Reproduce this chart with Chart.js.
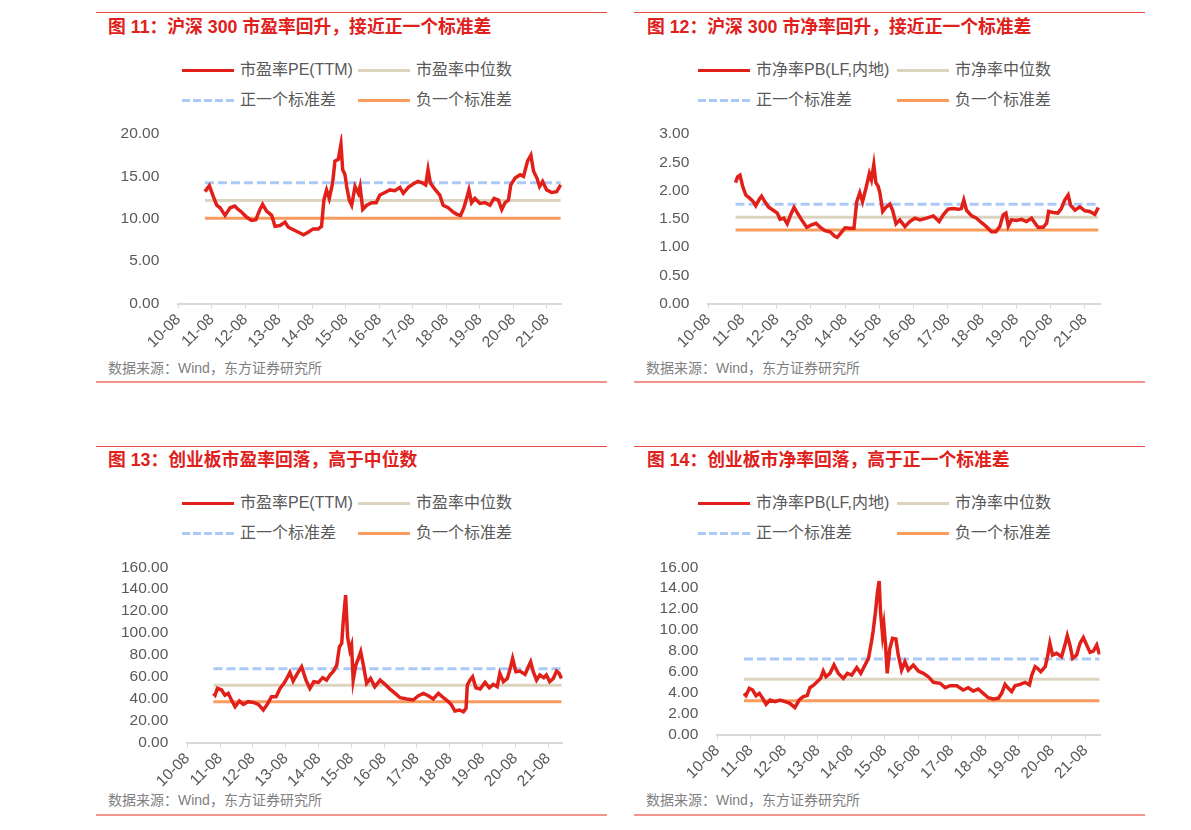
<!DOCTYPE html>
<html>
<head>
<meta charset="utf-8">
<script src="https://cdn.jsdelivr.net/npm/chart.js@4.4.0/dist/chart.umd.min.js"></script>
<style>
  body { margin: 0; background: #fff; width: 1191px; height: 830px; position: relative; overflow: hidden;
         font-family: "Liberation Sans", "Noto Sans CJK SC", sans-serif; }
  .rule { position: absolute; height: 1px; background: #e8483f; }
  .rule.bot { height: 2px; background: #f4958d; }
  .title { position: absolute; font-size: 17.8px; font-weight: bold; color: #e0201b; line-height: 20px; white-space: nowrap; }
  .src { position: absolute; font-size: 14px; color: #7f7f7f; line-height: 18px; white-space: nowrap; }
  .lg { position: absolute; font-size: 16px; color: #595959; line-height: 20px; white-space: nowrap; display: flex; align-items: center; }
  .sw { width: 52px; height: 3px; margin-right: 6px; }
  canvas { position: absolute; }
</style>
</head>
<body>
<script>
// x axis tick labels (yy-mm), one per year
const xTickLabels = ['10-08', '11-08', '12-08', '13-08', '14-08', '15-08', '16-08', '17-08', '18-08', '19-08', '20-08', '21-08'];

// 沪深300 市盈率PE(TTM)
const hs300PeDates = [2011.38, 2011.51, 2011.63, 2011.73, 2011.83, 2011.98, 2012.13, 2012.27, 2012.37, 2012.47, 2012.62, 2012.77, 2012.90, 2013.02, 2013.10, 2013.22, 2013.37, 2013.47, 2013.62, 2013.77, 2013.87, 2014.02, 2014.17, 2014.32, 2014.46, 2014.61, 2014.76, 2014.86, 2014.93, 2015.01, 2015.09, 2015.19, 2015.26, 2015.36, 2015.44, 2015.49, 2015.56, 2015.61, 2015.69, 2015.76, 2015.86, 2015.96, 2016.01, 2016.09, 2016.21, 2016.36, 2016.49, 2016.60, 2016.75, 2016.90, 2017.05, 2017.20, 2017.30, 2017.45, 2017.59, 2017.74, 2017.89, 2017.97, 2018.04, 2018.11, 2018.26, 2018.39, 2018.49, 2018.64, 2018.79, 2018.91, 2019.01, 2019.11, 2019.19, 2019.26, 2019.34, 2019.44, 2019.59, 2019.74, 2019.89, 2020.01, 2020.14, 2020.24, 2020.34, 2020.44, 2020.51, 2020.64, 2020.79, 2020.89, 2021.01, 2021.11, 2021.19, 2021.29, 2021.37, 2021.46, 2021.58, 2021.73, 2021.88, 2022.00];
const hs300PeValues = [13.2, 13.9, 12.6, 11.6, 11.3, 10.4, 11.3, 11.5, 11.1, 10.8, 10.2, 9.8, 9.9, 11.1, 11.7, 10.9, 10.4, 9.1, 9.2, 9.6, 9.0, 8.7, 8.4, 8.1, 8.4, 8.8, 8.8, 9.1, 12.2, 13.4, 12.4, 14.2, 16.8, 17.0, 18.8, 15.8, 15.2, 13.8, 12.2, 11.6, 13.8, 13.0, 13.8, 11.1, 11.6, 11.9, 11.9, 12.8, 13.1, 13.4, 13.3, 13.7, 13.0, 13.7, 14.1, 14.4, 14.2, 14.0, 15.8, 14.2, 13.4, 12.8, 11.6, 11.3, 10.8, 10.5, 10.4, 11.3, 12.4, 13.4, 11.9, 12.4, 11.8, 11.9, 11.6, 12.4, 12.2, 11.1, 11.9, 12.2, 14.0, 14.8, 15.2, 15.0, 16.8, 17.5, 15.6, 14.8, 13.8, 14.4, 13.4, 13.1, 13.2, 14.0];
const hs300PeRefs = [14.25, 12.15, 10.05];          // 正一个标准差, 中位数, 负一个标准差
const hs300PeTicks = [0, 5, 10, 15, 20];

// 沪深300 市净率PB(LF,内地)
const hs300PbDates = [2011.38, 2011.44, 2011.51, 2011.59, 2011.68, 2011.80, 2011.90, 2011.97, 2012.07, 2012.14, 2012.24, 2012.34, 2012.48, 2012.60, 2012.68, 2012.79, 2012.89, 2012.99, 2013.09, 2013.18, 2013.31, 2013.46, 2013.60, 2013.73, 2013.85, 2013.99, 2014.14, 2014.28, 2014.35, 2014.45, 2014.58, 2014.72, 2014.84, 2014.92, 2015.01, 2015.09, 2015.19, 2015.29, 2015.35, 2015.42, 2015.48, 2015.55, 2015.60, 2015.68, 2015.77, 2015.89, 2015.97, 2016.07, 2016.18, 2016.33, 2016.47, 2016.62, 2016.77, 2016.96, 2017.16, 2017.33, 2017.45, 2017.59, 2017.74, 2017.89, 2017.98, 2018.05, 2018.13, 2018.28, 2018.42, 2018.57, 2018.71, 2018.86, 2018.99, 2019.10, 2019.20, 2019.28, 2019.35, 2019.44, 2019.59, 2019.74, 2019.88, 2020.03, 2020.12, 2020.22, 2020.37, 2020.47, 2020.53, 2020.66, 2020.80, 2020.90, 2021.00, 2021.10, 2021.17, 2021.30, 2021.44, 2021.59, 2021.73, 2021.88, 2021.98];
const hs300PbValues = [2.14, 2.24, 2.27, 2.07, 1.92, 1.86, 1.80, 1.73, 1.84, 1.90, 1.80, 1.71, 1.65, 1.60, 1.49, 1.51, 1.41, 1.57, 1.70, 1.61, 1.48, 1.35, 1.39, 1.42, 1.35, 1.29, 1.27, 1.19, 1.17, 1.24, 1.34, 1.33, 1.33, 1.80, 1.96, 1.80, 2.04, 2.30, 2.19, 2.46, 2.14, 2.07, 1.95, 1.63, 1.70, 1.76, 1.65, 1.41, 1.48, 1.36, 1.45, 1.51, 1.48, 1.51, 1.55, 1.45, 1.57, 1.67, 1.68, 1.67, 1.68, 1.83, 1.65, 1.55, 1.51, 1.43, 1.36, 1.27, 1.27, 1.36, 1.57, 1.60, 1.37, 1.48, 1.47, 1.49, 1.45, 1.51, 1.43, 1.35, 1.35, 1.42, 1.63, 1.61, 1.60, 1.68, 1.83, 1.92, 1.74, 1.65, 1.71, 1.64, 1.63, 1.58, 1.70];
const hs300PbRefs = [1.755, 1.525, 1.30];
const hs300PbTicks = [0, 0.5, 1, 1.5, 2, 2.5, 3];

// 创业板 市盈率PE(TTM)
const cybPeDates = [2011.38, 2011.43, 2011.50, 2011.63, 2011.73, 2011.83, 2011.93, 2012.04, 2012.17, 2012.29, 2012.44, 2012.60, 2012.75, 2012.90, 2013.02, 2013.15, 2013.29, 2013.41, 2013.53, 2013.63, 2013.71, 2013.81, 2013.94, 2014.07, 2014.20, 2014.32, 2014.44, 2014.58, 2014.71, 2014.83, 2014.93, 2015.04, 2015.14, 2015.22, 2015.29, 2015.34, 2015.41, 2015.47, 2015.54, 2015.59, 2015.64, 2015.72, 2015.80, 2015.87, 2015.95, 2016.05, 2016.17, 2016.30, 2016.46, 2016.61, 2016.76, 2016.92, 2017.07, 2017.27, 2017.47, 2017.63, 2017.78, 2017.93, 2018.08, 2018.24, 2018.39, 2018.54, 2018.64, 2018.74, 2018.88, 2019.00, 2019.08, 2019.12, 2019.20, 2019.28, 2019.38, 2019.51, 2019.66, 2019.79, 2019.91, 2020.03, 2020.11, 2020.22, 2020.34, 2020.44, 2020.50, 2020.60, 2020.72, 2020.88, 2020.98, 2021.05, 2021.13, 2021.23, 2021.33, 2021.45, 2021.53, 2021.63, 2021.74, 2021.84, 2021.92, 2021.99];
const cybPeValues = [44.9, 43.3, 49.4, 47.9, 43.3, 44.9, 38.8, 32.7, 37.9, 34.8, 37.3, 36.6, 34.8, 29.7, 34.8, 41.8, 41.8, 49.4, 54.0, 59.2, 64.0, 56.1, 63.1, 69.2, 57.0, 49.4, 55.5, 54.9, 59.2, 57.0, 61.6, 65.2, 70.7, 87.4, 90.5, 111.8, 134.6, 96.6, 84.4, 89.0, 57.0, 70.7, 76.8, 82.9, 70.7, 54.0, 58.5, 50.9, 57.0, 53.1, 48.8, 44.9, 40.9, 39.7, 38.8, 42.7, 44.9, 42.7, 39.7, 44.9, 40.9, 37.3, 34.2, 28.7, 29.7, 28.1, 31.2, 52.5, 57.0, 60.1, 50.0, 48.8, 54.9, 50.0, 53.1, 50.9, 63.1, 55.5, 58.5, 69.2, 76.8, 64.6, 65.2, 62.2, 69.2, 73.7, 64.6, 57.0, 61.6, 59.2, 61.6, 55.5, 58.5, 65.2, 63.1, 58.5];
const cybPeRefs = [67.4, 52.2, 37.3];
const cybPeTicks = [0, 20, 40, 60, 80, 100, 120, 140, 160];

// 创业板 市净率PB(LF,内地)
const cybPbDates = [2011.38, 2011.44, 2011.54, 2011.64, 2011.74, 2011.84, 2011.94, 2012.04, 2012.16, 2012.31, 2012.46, 2012.61, 2012.75, 2012.90, 2013.03, 2013.15, 2013.27, 2013.35, 2013.47, 2013.57, 2013.67, 2013.75, 2013.83, 2013.95, 2014.07, 2014.20, 2014.35, 2014.47, 2014.60, 2014.75, 2014.87, 2014.97, 2015.10, 2015.19, 2015.24, 2015.31, 2015.37, 2015.42, 2015.46, 2015.52, 2015.56, 2015.61, 2015.66, 2015.74, 2015.82, 2015.92, 2015.99, 2016.09, 2016.19, 2016.29, 2016.44, 2016.59, 2016.74, 2016.89, 2017.04, 2017.24, 2017.39, 2017.54, 2017.74, 2017.93, 2018.08, 2018.23, 2018.38, 2018.53, 2018.68, 2018.83, 2018.98, 2019.08, 2019.18, 2019.28, 2019.38, 2019.48, 2019.63, 2019.78, 2019.91, 2019.98, 2020.08, 2020.15, 2020.25, 2020.38, 2020.45, 2020.52, 2020.60, 2020.72, 2020.87, 2020.97, 2021.04, 2021.12, 2021.20, 2021.32, 2021.42, 2021.52, 2021.62, 2021.72, 2021.82, 2021.92, 2022.00];
const cybPbValues = [3.94, 3.72, 4.42, 4.26, 3.72, 3.94, 3.46, 2.89, 3.30, 3.14, 3.30, 3.14, 2.98, 2.57, 3.30, 3.62, 3.72, 4.48, 4.74, 5.06, 5.37, 6.08, 5.53, 5.85, 6.65, 5.85, 5.37, 5.85, 5.69, 6.40, 5.85, 6.49, 7.29, 8.88, 9.90, 11.75, 13.67, 14.69, 11.75, 9.52, 10.48, 8.56, 5.85, 8.25, 9.20, 9.14, 7.61, 6.17, 6.97, 6.17, 6.65, 6.08, 5.85, 5.53, 4.99, 4.90, 4.48, 4.67, 4.67, 4.26, 4.48, 4.16, 4.35, 3.94, 3.52, 3.40, 3.46, 3.94, 4.80, 4.42, 4.10, 4.67, 4.80, 4.99, 4.74, 5.69, 6.49, 6.33, 6.01, 6.49, 7.45, 8.72, 7.61, 7.77, 7.45, 8.56, 9.46, 8.56, 7.29, 7.61, 8.72, 9.27, 8.56, 7.86, 7.99, 8.56, 7.67];
const cybPbRefs = [7.22, 5.28, 3.24];
const cybPbTicks = [0, 2, 4, 6, 8, 10, 12, 14, 16];

const peLegend = ['市盈率PE(TTM)', '市盈率中位数', '正一个标准差', '负一个标准差'];
const pbLegend = ['市净率PB(LF,内地)', '市净率中位数', '正一个标准差', '负一个标准差'];
const SOURCE = '数据来源：Wind，东方证券研究所';

const RED = '#e2201a', BEIGE = '#ddd4bf', BLUE = '#a9c9f6', ORANGE = '#f89b5c';
const TICK_COLOR = '#595959';
const X_MIN = 2010 + 7 / 12, X_MAX = 2022.03;
const tickPos = l => 2000 + parseInt(l.slice(0, 2), 10) + (parseInt(l.slice(3), 10) - 1) / 12;

const panels = [
  { title: '图 11：沪深 300 市盈率回升，接近正一个标准差', legend: peLegend, dates: hs300PeDates, values: hs300PeValues, refs: hs300PeRefs, ticks: hs300PeTicks,
    x0: 96, top: 12, bottom: 381, titleX: 108, titleY: 27, lgX: [182, 358], lgY: [70, 100], srcX: 108, srcY: 368,
    plot: { l: 178.3, r: 561.7, t: 134, b: 303.5 } },
  { title: '图 12：沪深 300 市净率回升，接近正一个标准差', legend: pbLegend, dates: hs300PbDates, values: hs300PbValues, refs: hs300PbRefs, ticks: hs300PbTicks,
    x0: 634, top: 12, bottom: 381, titleX: 647, titleY: 27, lgX: [698, 897], lgY: [70, 100], srcX: 646, srcY: 368,
    plot: { l: 708.3, r: 1100, t: 134, b: 303.5 } },
  { title: '图 13：创业板市盈率回落，高于中位数', legend: peLegend, dates: cybPeDates, values: cybPeValues, refs: cybPeRefs, ticks: cybPeTicks,
    x0: 96, top: 446, bottom: 814, titleX: 108, titleY: 460, lgX: [182, 358], lgY: [503, 533], srcX: 108, srcY: 800,
    plot: { l: 187.3, r: 562.8, t: 567.3, b: 742.5 } },
  { title: '图 14：创业板市净率回落，高于正一个标准差', legend: pbLegend, dates: cybPbDates, values: cybPbValues, refs: cybPbRefs, ticks: cybPbTicks,
    x0: 634, top: 446, bottom: 814, titleX: 647, titleY: 460, lgX: [698, 897], lgY: [503, 533], srcX: 646, srcY: 800,
    plot: { l: 717.3, r: 1100.4, t: 567.3, b: 734.5 } }
];

function el(tag, cls, css, text) {
  const e = document.createElement(tag);
  if (cls) e.className = cls;
  Object.assign(e.style, css);
  if (text) e.textContent = text;
  document.body.appendChild(e);
  return e;
}

function legendItem(x, cy, label, swatchBg) {
  const d = el('div', 'lg', { left: x + 'px', top: (cy - 10) + 'px' });
  const s = document.createElement('span');
  s.className = 'sw';
  s.style.background = swatchBg;
  d.appendChild(s);
  d.appendChild(document.createTextNode(label));
}

panels.forEach(p => {
  el('div', 'rule', { left: p.x0 + 'px', top: p.top + 'px', width: '511px' });
  el('div', 'rule bot', { left: p.x0 + 'px', top: p.bottom + 'px', width: '511px' });
  el('div', 'title', { left: p.titleX + 'px', top: (p.titleY - 10) + 'px' }, p.title);
  el('div', 'src', { left: p.srcX + 'px', top: (p.srcY - 9) + 'px' }, SOURCE);

  legendItem(p.lgX[0], p.lgY[0], p.legend[0], RED);
  legendItem(p.lgX[1], p.lgY[0], p.legend[1], BEIGE);
  legendItem(p.lgX[0], p.lgY[1], p.legend[2], 'repeating-linear-gradient(to right, ' + BLUE + ' 0 8px, transparent 8px 11px)');
  legendItem(p.lgX[1], p.lgY[1], p.legend[3], ORANGE);

  // canvas placed so that the chart area lands on the plot rectangle
  // (top margin must exceed the y-label half height + tick padding, ~28px)
  const a = p.plot;
  const left = Math.floor(a.l) - 80, top = Math.floor(a.t) - 34;
  const width = Math.ceil(a.r) + 8 - left, height = Math.ceil(a.b) + 62 - top;
  const cv = el('canvas', null, { left: left + 'px', top: top + 'px', width: width + 'px', height: height + 'px' });
  cv.width = width; cv.height = height;
  const yW = a.l - left, padTop = a.t - top, padRight = left + width - a.r, xH = top + height - a.b;

  const start = p.dates[0], end = p.dates[p.dates.length - 1];
  const flat = v => [{ x: start, y: v }, { x: end, y: v }];
  const tickFont = { family: '"Liberation Sans", sans-serif', size: 15.5 };

  new Chart(cv, {
    type: 'line',
    data: {
      datasets: [
        { data: p.dates.map((d, i) => ({ x: d, y: p.values[i] })), borderColor: RED, borderWidth: 3.5, pointRadius: 0, tension: 0 },
        { data: flat(p.refs[0]), borderColor: BLUE, borderWidth: 3, borderDash: [9, 4], pointRadius: 0 },
        { data: flat(p.refs[1]), borderColor: BEIGE, borderWidth: 3, pointRadius: 0 },
        { data: flat(p.refs[2]), borderColor: ORANGE, borderWidth: 3, pointRadius: 0 }
      ]
    },
    options: {
      responsive: false,
      animation: false,
      events: [],
      layout: { padding: { top: padTop, right: padRight, left: 0, bottom: 0 } },
      plugins: { legend: { display: false }, tooltip: { enabled: false } },
      scales: {
        x: {
          type: 'linear', min: X_MIN, max: X_MAX,
          afterBuildTicks: s => { s.ticks = xTickLabels.map(l => ({ value: tickPos(l) })); },
          afterFit: s => { s.height = xH; },
          ticks: { callback: (v, i) => xTickLabels[i], autoSkip: false, maxRotation: 45, minRotation: 45, padding: 2, color: TICK_COLOR, font: tickFont },
          grid: { drawOnChartArea: false, drawTicks: true, tickLength: 5, color: '#d9d9d9' },
          border: { display: true, color: '#d9d9d9', width: 2 }
        },
        y: {
          min: 0, max: p.ticks[p.ticks.length - 1],
          afterBuildTicks: s => { s.ticks = p.ticks.map(v => ({ value: v })); },
          afterFit: s => { s.width = yW; },
          ticks: { callback: v => v.toFixed(2), autoSkip: false, padding: 19, color: TICK_COLOR, font: tickFont },
          grid: { display: false, drawTicks: false },
          border: { display: false }
        }
      }
    }
  });
});
</script>
</body>
</html>
